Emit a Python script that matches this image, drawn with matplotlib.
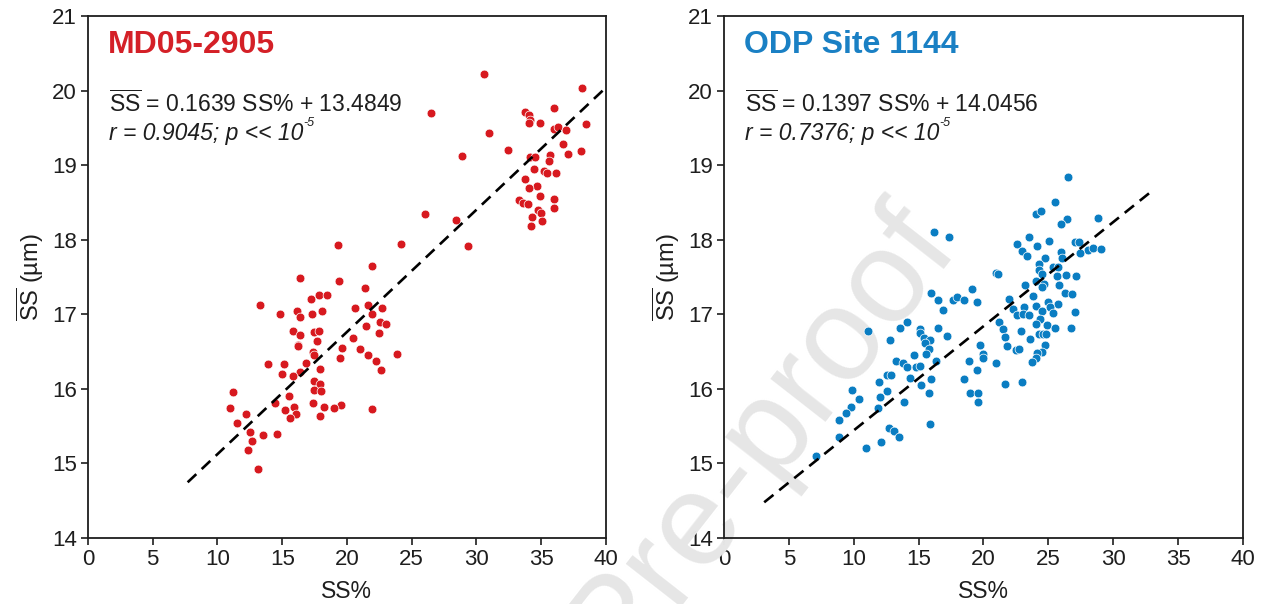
import numpy as np
import matplotlib
matplotlib.use("Agg")
import matplotlib.pyplot as plt

# --- MD05-2905 (left panel) ---
md_ss_pct = [30.55, 38.17, 26.48, 33.74, 34.07, 34.16, 34.05, 34.89, 35.99, 36.02,
             36.32, 36.93, 38.44, 30.97, 36.71, 32.40, 38.08, 37.08, 28.88, 34.16,
             34.56, 35.65, 35.62, 34.44, 35.23, 35.41, 36.17, 33.74, 34.71, 34.04,
             34.89, 33.25, 33.59, 33.98, 36.00, 35.96, 34.74, 34.95, 34.28, 35.07,
             34.19, 26.02, 28.45, 29.37, 24.14, 19.28, 21.93, 16.37, 19.40, 21.38,
             17.19, 17.83, 18.43, 13.30, 20.62, 21.62, 22.68, 14.85, 16.12, 16.37,
             17.31, 18.07, 21.96, 22.59, 23.02, 21.50, 15.85, 17.43, 17.83, 16.37,
             17.67, 20.44, 22.50, 16.22, 16.25, 19.65, 21.01, 17.40, 17.49, 21.62,
             23.90, 19.43, 22.23, 13.91, 15.12, 16.85, 17.92, 22.62, 16.37, 14.97,
             15.85, 17.49, 17.95, 11.20, 17.43, 18.00, 15.55, 14.46, 17.37, 19.56,
             11.00, 15.89, 18.19, 19.01, 21.96, 15.21, 12.21, 16.03, 15.64, 17.89,
             11.48, 12.54, 14.58, 13.54, 12.63, 12.39, 13.12]
md_ss_mean = [20.22, 20.03, 19.70, 19.71, 19.67, 19.60, 19.57, 19.57, 19.76, 19.49,
              19.51, 19.47, 19.55, 19.43, 19.28, 19.20, 19.19, 19.15, 19.12, 19.11,
              19.11, 19.13, 19.06, 18.95, 18.92, 18.89, 18.89, 18.82, 18.72, 18.70,
              18.58, 18.53, 18.49, 18.48, 18.54, 18.42, 18.40, 18.36, 18.30, 18.25,
              18.19, 18.35, 18.26, 17.92, 17.94, 17.93, 17.65, 17.49, 17.45, 17.35,
              17.21, 17.26, 17.26, 17.13, 17.09, 17.13, 17.08, 17.01, 17.05, 16.97,
              17.00, 17.05, 17.00, 16.90, 16.87, 16.84, 16.78, 16.76, 16.78, 16.72,
              16.64, 16.68, 16.75, 16.59, 16.57, 16.55, 16.53, 16.50, 16.45, 16.46,
              16.47, 16.41, 16.38, 16.33, 16.33, 16.34, 16.26, 16.25, 16.22, 16.20,
              16.17, 16.10, 16.06, 15.96, 15.98, 15.97, 15.91, 15.81, 15.81, 15.79,
              15.74, 15.76, 15.75, 15.74, 15.73, 15.71, 15.66, 15.66, 15.61, 15.63,
              15.54, 15.42, 15.40, 15.38, 15.30, 15.18, 14.92]

# --- ODP Site 1144 (right panel) ---
odp_ss_pct = [26.50, 25.52, 24.04, 24.41, 26.44, 28.81, 25.95, 16.21, 17.32, 23.48,
              22.59, 24.16, 25.05, 27.06, 27.33, 28.04, 28.44, 29.09, 27.46, 22.96,
              23.33, 26.01, 26.07, 24.75, 24.25, 24.25, 25.39, 25.73, 20.99, 21.11,
              24.50, 25.67, 26.38, 27.15, 24.04, 24.65, 25.85, 23.17, 24.50, 15.93,
              19.08, 16.49, 17.66, 17.97, 18.52, 19.48, 22.00, 23.79, 26.25, 26.81,
              24.99, 25.76, 25.15, 22.25, 23.11, 24.01, 16.86, 25.34, 27.03, 22.62,
              23.05, 23.48, 24.53, 24.35, 21.20, 14.08, 11.09, 13.53, 15.13, 16.46,
              24.07, 24.93, 25.49, 26.72, 21.54, 22.92, 15.10, 24.28, 24.59, 24.81,
              21.63, 17.20, 12.79, 15.40, 15.91, 15.53, 23.57, 24.75, 19.75, 21.79,
              15.81, 22.53, 22.74, 24.50, 24.16, 14.64, 15.59, 19.96, 19.99, 13.28,
              16.36, 18.86, 24.07, 23.76, 20.99, 13.81, 14.12, 14.79, 15.10, 19.48,
              12.57, 12.85, 14.30, 15.99, 18.49, 11.96, 15.16, 21.63, 22.96, 9.89,
              12.54, 15.84, 18.98, 19.54, 12.02, 10.39, 13.90, 19.60, 9.77, 11.90,
              9.37, 8.84, 15.90, 12.73, 13.13, 13.50, 8.84, 10.91, 12.08, 7.12]
odp_ss_mean = [18.84, 18.51, 18.35, 18.38, 18.28, 18.29, 18.21, 18.11, 18.04, 18.03,
               17.94, 17.92, 17.98, 17.97, 17.97, 17.86, 17.89, 17.87, 17.82, 17.85,
               17.78, 17.83, 17.75, 17.75, 17.68, 17.59, 17.64, 17.64, 17.56, 17.54,
               17.54, 17.52, 17.53, 17.52, 17.45, 17.40, 17.39, 17.39, 17.37, 17.28,
               17.34, 17.19, 17.19, 17.23, 17.19, 17.17, 17.20, 17.25, 17.28, 17.27,
               17.16, 17.14, 17.10, 17.07, 17.10, 17.11, 17.06, 17.02, 17.03, 16.99,
               17.00, 16.99, 17.04, 16.94, 16.89, 16.90, 16.78, 16.82, 16.80, 16.82,
               16.87, 16.86, 16.81, 16.82, 16.80, 16.77, 16.75, 16.73, 16.73, 16.73,
               16.70, 16.71, 16.66, 16.68, 16.66, 16.61, 16.67, 16.59, 16.59, 16.58,
               16.54, 16.52, 16.53, 16.49, 16.48, 16.46, 16.47, 16.47, 16.41, 16.38,
               16.38, 16.38, 16.41, 16.36, 16.35, 16.34, 16.29, 16.29, 16.30, 16.25,
               16.18, 16.18, 16.15, 16.13, 16.13, 16.09, 16.05, 16.07, 16.09, 15.98,
               15.97, 15.95, 15.95, 15.95, 15.89, 15.86, 15.82, 15.83, 15.76, 15.74,
               15.68, 15.58, 15.53, 15.48, 15.44, 15.36, 15.36, 15.21, 15.29, 15.10]

# regression coefficients printed on the figure, and the x-span of each fit line
md_fit = (0.1639, 13.4849)
odp_fit = (0.1397, 14.0456)
md_fit_range = (7.7, 40.0)
odp_fit_range = (3.1, 33.1)

plt.rcParams['font.family'] = ['Liberation Sans', 'DejaVu Sans']
plt.rcParams['mathtext.fontset'] = 'custom'
plt.rcParams['mathtext.rm'] = 'Liberation Sans'
plt.rcParams['mathtext.it'] = 'Liberation Sans:italic'

INK = '#1e1e1e'


def draw_panel(ax, x, y, fit, fit_range, color, title_color, title, r_text):
    ax.scatter(x, y, s=40, color=color, edgecolors='white', linewidths=0.5, zorder=3)

    # dashed regression line
    xs = np.array(fit_range)
    ax.plot(xs, fit[0] * xs + fit[1], color='black', lw=1.9,
            linestyle=(0, (4.5, 2.8)), zorder=4, clip_on=False)

    ax.set_xlim(0, 40)
    ax.set_ylim(14, 21)
    ax.set_xticks(np.arange(0, 41, 5))
    ax.set_yticks(np.arange(14, 22, 1))
    ax.tick_params(direction='out', length=5, width=1.2, labelsize=16, pad=3,
                   colors=INK)
    for sp in ax.spines.values():
        sp.set_linewidth(1.3)
        sp.set_color(INK)
        sp.set_zorder(3)

    ax.set_xlabel('SS%', fontsize=16.5, labelpad=7, color=INK)
    ax.set_ylabel(r'$\overline{\mathrm{SS}}$ (µm)', fontsize=17, labelpad=4,
                  color=INK)

    ax.text(0.038, 0.944, title, transform=ax.transAxes, fontsize=23,
            fontweight='bold', color=title_color, ha='left', va='center')
    eq = r'$\overline{\mathrm{SS}}$' + f' = {fit[0]:.4f} SS% + {fit[1]:.4f}'
    ax.text(0.040, 0.833, eq, transform=ax.transAxes, fontsize=16.5,
            color=INK, ha='left', va='center')
    t = ax.text(0.040, 0.775, r_text, transform=ax.transAxes, fontsize=16.5,
                style='italic', color=INK, ha='left', va='center')
    # small superscript exponent after "10"
    ax.annotate('-5', xy=(1.0, 0.95), xycoords=t, fontsize=9, style='italic',
                color=INK, ha='left', va='center')


fig = plt.figure(figsize=(12.69, 6.04), dpi=100)
ax1 = fig.add_axes([0.0693, 0.1093, 0.4082, 0.8642])
ax2 = fig.add_axes([0.5705, 0.1093, 0.4090, 0.8642])

draw_panel(ax1, md_ss_pct, md_ss_mean, md_fit, md_fit_range,
           '#d7191f', '#d42027', 'MD05-2905', 'r = 0.9045; p << 10')
draw_panel(ax2, odp_ss_pct, odp_ss_mean, odp_fit, odp_fit_range,
           '#0a7dc2', '#1a80c4', 'ODP Site 1144', 'r = 0.7376; p << 10')

# journal watermark: above the tick labels, below the data of the right panel
ax2.text(0.599, 0.278, 'Pre-proof', transform=fig.transFigure, rotation=52,
         fontsize=95, color='#e6e6e6', ha='center', va='center',
         rotation_mode='anchor', zorder=2.6, clip_on=False)

fig.savefig('out.png', dpi=100)
